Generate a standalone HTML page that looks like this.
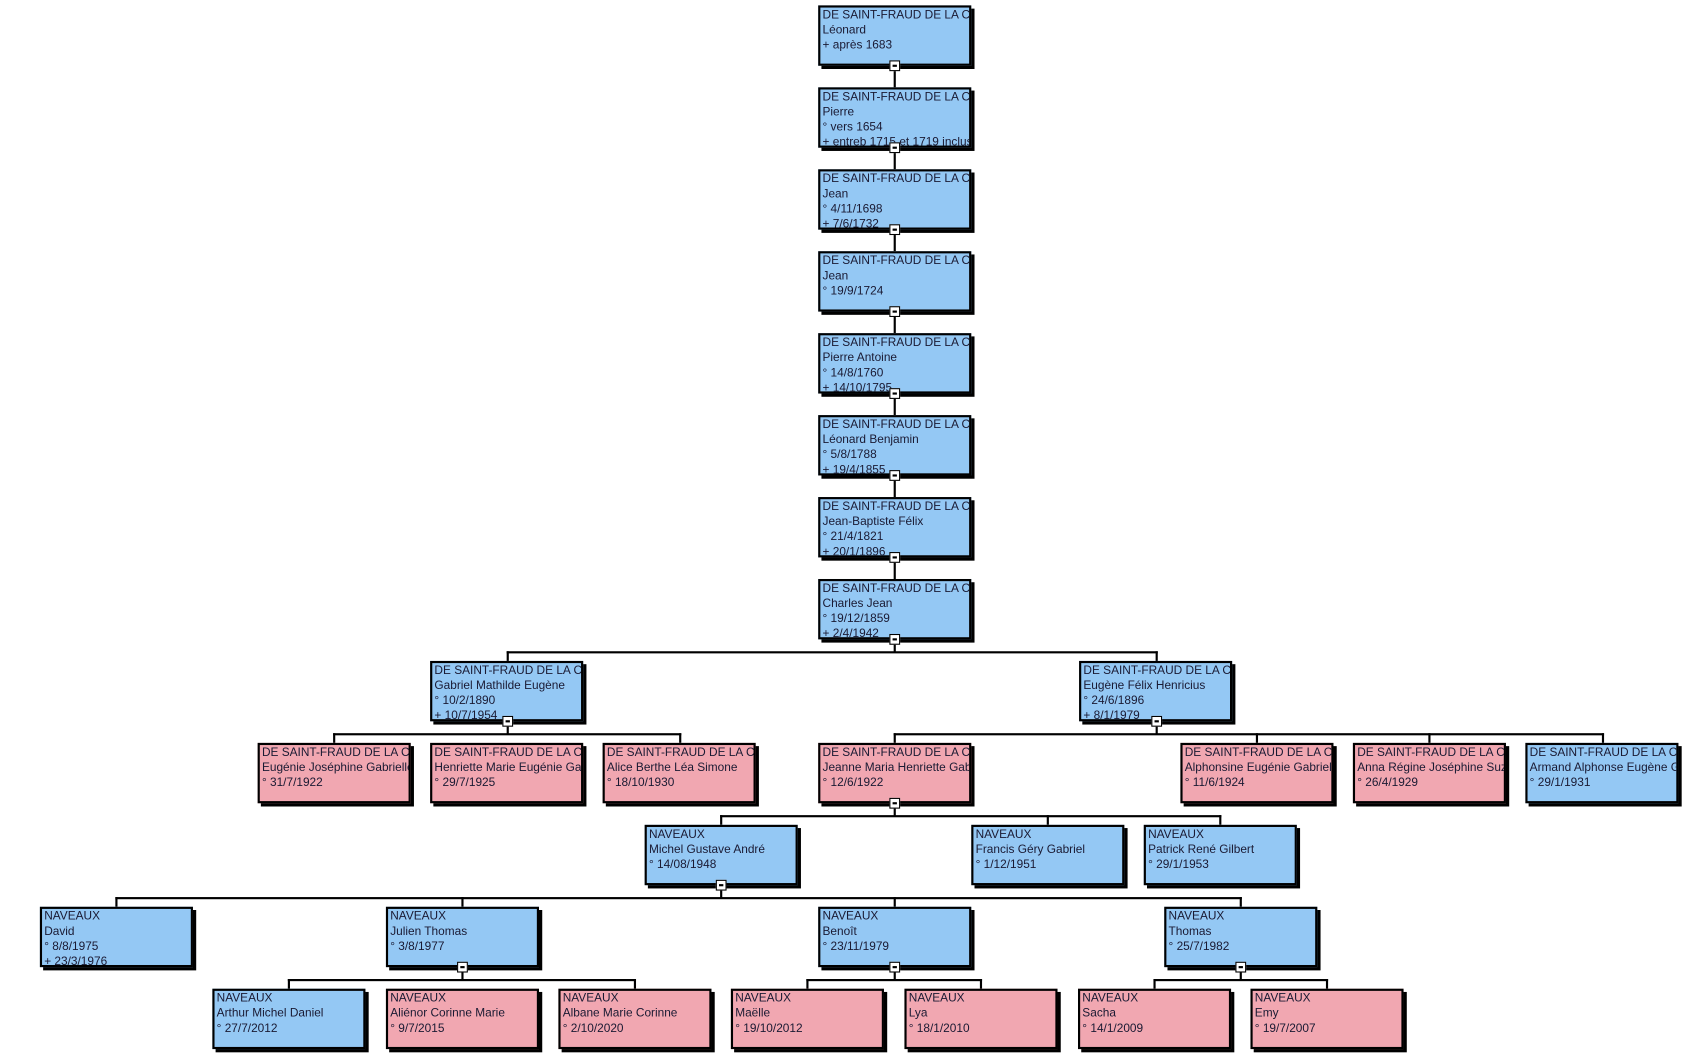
<!DOCTYPE html>
<html><head><meta charset="utf-8"><style>
html,body{margin:0;padding:0;background:#fff;width:1690px;height:1062px;overflow:hidden}
#w{position:absolute;left:0;top:0;width:1560px;height:985px;transform:scale(1.078,1.0782);transform-origin:0 0}
.b{position:absolute;width:138px;height:52px;border:2px solid #000;box-shadow:3px 3px 0 #000;overflow:hidden;white-space:nowrap;font-family:"Liberation Sans",sans-serif;font-size:11px;line-height:14px;color:#1a1a33;padding:0 0 0 2px;box-sizing:content-box;width:136px}
.m{background:#94c8f4}.f{background:#f1a7b1}
.h{position:absolute;height:2px;background:#000}
.v{position:absolute;width:2px;background:#000}
.c{position:absolute;width:8px;height:8px;border:1px solid #000;background:#fff}
.c:after{content:"";position:absolute;left:2px;top:3px;width:4px;height:2px;background:#000}
</style></head><body><div id="w">
<div class="v" style="left:829px;top:61px;height:20px"></div>
<div class="v" style="left:829px;top:137px;height:20px"></div>
<div class="v" style="left:829px;top:213px;height:20px"></div>
<div class="v" style="left:829px;top:289px;height:20px"></div>
<div class="v" style="left:829px;top:365px;height:20px"></div>
<div class="v" style="left:829px;top:441px;height:20px"></div>
<div class="v" style="left:829px;top:517px;height:20px"></div>
<div class="v" style="left:829px;top:593px;height:12px"></div>
<div class="h" style="left:470px;top:604px;width:604px"></div>
<div class="v" style="left:470px;top:604px;height:9px"></div>
<div class="v" style="left:1072px;top:604px;height:9px"></div>
<div class="v" style="left:470px;top:669px;height:12px"></div>
<div class="h" style="left:309px;top:680px;width:323px"></div>
<div class="v" style="left:309px;top:680px;height:9px"></div>
<div class="v" style="left:630px;top:680px;height:9px"></div>
<div class="v" style="left:1072px;top:669px;height:12px"></div>
<div class="h" style="left:829px;top:680px;width:659px"></div>
<div class="v" style="left:829px;top:680px;height:9px"></div>
<div class="v" style="left:1165px;top:680px;height:9px"></div>
<div class="v" style="left:1325px;top:680px;height:9px"></div>
<div class="v" style="left:1486px;top:680px;height:9px"></div>
<div class="v" style="left:829px;top:745px;height:12px"></div>
<div class="h" style="left:668px;top:756px;width:465px"></div>
<div class="v" style="left:668px;top:756px;height:9px"></div>
<div class="v" style="left:971px;top:756px;height:9px"></div>
<div class="v" style="left:1131px;top:756px;height:9px"></div>
<div class="v" style="left:668px;top:821px;height:12px"></div>
<div class="h" style="left:107px;top:832px;width:1045px"></div>
<div class="v" style="left:107px;top:832px;height:9px"></div>
<div class="v" style="left:428px;top:832px;height:9px"></div>
<div class="v" style="left:829px;top:832px;height:9px"></div>
<div class="v" style="left:1150px;top:832px;height:9px"></div>
<div class="v" style="left:428px;top:897px;height:12px"></div>
<div class="h" style="left:267px;top:908px;width:323px"></div>
<div class="v" style="left:267px;top:908px;height:9px"></div>
<div class="v" style="left:588px;top:908px;height:9px"></div>
<div class="v" style="left:829px;top:897px;height:12px"></div>
<div class="h" style="left:748px;top:908px;width:163px"></div>
<div class="v" style="left:748px;top:908px;height:9px"></div>
<div class="v" style="left:909px;top:908px;height:9px"></div>
<div class="v" style="left:1150px;top:897px;height:12px"></div>
<div class="h" style="left:1070px;top:908px;width:162px"></div>
<div class="v" style="left:1070px;top:908px;height:9px"></div>
<div class="v" style="left:1230px;top:908px;height:9px"></div>

<div class="b m" style="left:759px;top:5px">DE SAINT-FRAUD DE LA CHAPELLE<br>Léonard<br>+ après 1683</div>
<div class="b m" style="left:759px;top:81px">DE SAINT-FRAUD DE LA CHAPELLE<br>Pierre<br>° vers 1654<br>+ entreb 1715 et 1719 inclus</div>
<div class="b m" style="left:759px;top:157px">DE SAINT-FRAUD DE LA CHAPELLE<br>Jean<br>° 4/11/1698<br>+ 7/6/1732</div>
<div class="b m" style="left:759px;top:233px">DE SAINT-FRAUD DE LA CHAPELLE<br>Jean<br>° 19/9/1724</div>
<div class="b m" style="left:759px;top:309px">DE SAINT-FRAUD DE LA CHAPELLE<br>Pierre Antoine<br>° 14/8/1760<br>+ 14/10/1795</div>
<div class="b m" style="left:759px;top:385px">DE SAINT-FRAUD DE LA CHAPELLE<br>Léonard Benjamin<br>° 5/8/1788<br>+ 19/4/1855</div>
<div class="b m" style="left:759px;top:461px">DE SAINT-FRAUD DE LA CHAPELLE<br>Jean-Baptiste Félix<br>° 21/4/1821<br>+ 20/1/1896</div>
<div class="b m" style="left:759px;top:537px">DE SAINT-FRAUD DE LA CHAPELLE<br>Charles Jean<br>° 19/12/1859<br>+ 2/4/1942</div>
<div class="b m" style="left:399px;top:613px">DE SAINT-FRAUD DE LA CHAPELLE<br>Gabriel Mathilde Eugène<br>° 10/2/1890<br>+ 10/7/1954</div>
<div class="b m" style="left:1001px;top:613px">DE SAINT-FRAUD DE LA CHAPELLE<br>Eugène Félix Henricius<br>° 24/6/1896<br>+ 8/1/1979</div>
<div class="b f" style="left:239px;top:689px">DE SAINT-FRAUD DE LA CHAPELLE<br>Eugénie Joséphine Gabrielle<br>° 31/7/1922</div>
<div class="b f" style="left:399px;top:689px">DE SAINT-FRAUD DE LA CHAPELLE<br>Henriette Marie Eugénie Gabrielle<br>° 29/7/1925</div>
<div class="b f" style="left:559px;top:689px">DE SAINT-FRAUD DE LA CHAPELLE<br>Alice Berthe Léa Simone<br>° 18/10/1930</div>
<div class="b f" style="left:759px;top:689px">DE SAINT-FRAUD DE LA CHAPELLE<br>Jeanne Maria Henriette Gabrielle<br>° 12/6/1922</div>
<div class="b f" style="left:1095px;top:689px">DE SAINT-FRAUD DE LA CHAPELLE<br>Alphonsine Eugénie Gabrielle<br>° 11/6/1924</div>
<div class="b f" style="left:1255px;top:689px">DE SAINT-FRAUD DE LA CHAPELLE<br>Anna Régine Joséphine Suzanne<br>° 26/4/1929</div>
<div class="b m" style="left:1415px;top:689px">DE SAINT-FRAUD DE LA CHAPELLE<br>Armand Alphonse Eugène Gabriel<br>° 29/1/1931</div>
<div class="b m" style="left:598px;top:765px">NAVEAUX<br>Michel Gustave André<br>° 14/08/1948</div>
<div class="b m" style="left:901px;top:765px">NAVEAUX<br>Francis Géry Gabriel<br>° 1/12/1951</div>
<div class="b m" style="left:1061px;top:765px">NAVEAUX<br>Patrick René Gilbert<br>° 29/1/1953</div>
<div class="b m" style="left:37px;top:841px">NAVEAUX<br>David<br>° 8/8/1975<br>+ 23/3/1976</div>
<div class="b m" style="left:358px;top:841px">NAVEAUX<br>Julien Thomas<br>° 3/8/1977</div>
<div class="b m" style="left:759px;top:841px">NAVEAUX<br>Benoît<br>° 23/11/1979</div>
<div class="b m" style="left:1080px;top:841px">NAVEAUX<br>Thomas<br>° 25/7/1982</div>
<div class="b m" style="left:197px;top:917px">NAVEAUX<br>Arthur Michel Daniel<br>° 27/7/2012</div>
<div class="b f" style="left:358px;top:917px">NAVEAUX<br>Aliénor Corinne Marie<br>° 9/7/2015</div>
<div class="b f" style="left:518px;top:917px">NAVEAUX<br>Albane Marie Corinne<br>° 2/10/2020</div>
<div class="b f" style="left:678px;top:917px">NAVEAUX<br>Maëlle<br>° 19/10/2012</div>
<div class="b f" style="left:839px;top:917px">NAVEAUX<br>Lya<br>° 18/1/2010</div>
<div class="b f" style="left:1000px;top:917px">NAVEAUX<br>Sacha<br>° 14/1/2009</div>
<div class="b f" style="left:1160px;top:917px">NAVEAUX<br>Emy<br>° 19/7/2007</div>

<div class="c" style="left:825px;top:56px"></div>
<div class="c" style="left:825px;top:132px"></div>
<div class="c" style="left:825px;top:208px"></div>
<div class="c" style="left:825px;top:284px"></div>
<div class="c" style="left:825px;top:360px"></div>
<div class="c" style="left:825px;top:436px"></div>
<div class="c" style="left:825px;top:512px"></div>
<div class="c" style="left:825px;top:588px"></div>
<div class="c" style="left:466px;top:664px"></div>
<div class="c" style="left:1068px;top:664px"></div>
<div class="c" style="left:825px;top:740px"></div>
<div class="c" style="left:664px;top:816px"></div>
<div class="c" style="left:424px;top:892px"></div>
<div class="c" style="left:825px;top:892px"></div>
<div class="c" style="left:1146px;top:892px"></div>
</div></body></html>
